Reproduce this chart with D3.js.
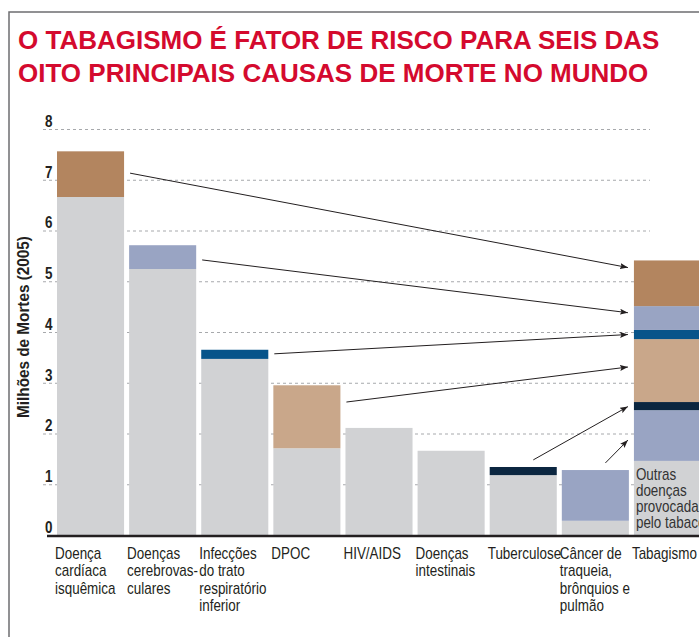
<!DOCTYPE html>
<html lang="pt-BR">
<head>
<meta charset="utf-8">
<script src="https://cdn.jsdelivr.net/npm/d3@7"></script>
<style>
  html, body { margin: 0; padding: 0; background: #fff; }
  svg { display: block; }
</style>
</head>
<body>
<div id="chart"></div>
<script>
  // Categorias (rótulos quebrados em linhas, como no original)
  const categorias = ["cardiaca", "cerebro", "infeccoes", "dpoc", "hiv", "intestinais", "tuberculose", "cancer", "tabagismo"];
  const rotulos = [
    ["Doença", "cardíaca", "isquêmica"],
    ["Doenças", "cerebrovas-", "culares"],
    ["Infecções", "do trato", "respiratório", "inferior"],
    ["DPOC"],
    ["HIV/AIDS"],
    ["Doenças", "intestinais"],
    ["Tuberculose"],
    ["Câncer de", "traqueia,", "brônquios e", "pulmão"],
    ["Tabagismo"]
  ];

  // Milhões de mortes (2005): parte sem relação com o tabaco e parte atribuída ao tabaco
  const outrasCausas = [6.66, 5.24, 3.47, 1.71, 2.11, 1.66, 1.18, 0.28];
  const tabaco       = [0.90, 0.47, 0.18, 1.24, 0, 0, 0.16, 1.00];
  const coresTabaco  = ["#b3855f", "#99a4c3", "#07548a", "#c9a78a", null, null, "#0b2640", "#99a4c3"];
  const outrasDoencasTabaco = 1.46;

  // Setas: categoria de origem, valor de saída e valor de chegada na barra "Tabagismo"
  const setaOrigem  = [0, 1, 2, 3, 6, 7];
  const setaDe      = [7.13, 5.42, 3.57, 2.62, 1.48, 1.42];
  const setaPara    = [5.27, 4.38, 3.95, 3.31, 2.53, 1.87];
  const setaDoTopo  = [false, false, false, false, true, true];

  const yTicks = [0, 1, 2, 3, 4, 5, 6, 7, 8];

  const W = 699, H = 637;
  const CINZA = "#d1d2d4";
  const FONTE = "'Liberation Sans', Arial, sans-serif";
  const SX = 0.84; // sem fonte condensada instalada: estreita a Liberation Sans

  const svg = d3.select("#chart").append("svg")
    .attr("width", W).attr("height", H);

  const defs = svg.append("defs");
  defs.append("marker")
    .attr("id", "ponta")
    .attr("viewBox", "0 0 8 6")
    .attr("refX", 8).attr("refY", 3)
    .attr("markerWidth", 8).attr("markerHeight", 6)
    .attr("markerUnits", "userSpaceOnUse")
    .attr("orient", "auto")
    .append("path")
    .attr("d", "M0,0 L8,3 L0,6 L1.5,3 Z")
    .attr("fill", "#231f20");

  // Moldura
  svg.append("rect")
    .attr("x", 9).attr("y", 12)
    .attr("width", W + 20).attr("height", H + 20)
    .attr("fill", "none")
    .attr("stroke", "#6d6e70")
    .attr("stroke-width", 1.5);

  // Título
  const titulo = svg.append("text")
    .attr("font-family", FONTE)
    .attr("font-weight", "bold")
    .attr("font-size", "26px")
    .attr("fill", "#d40a2e");
  titulo.append("tspan").attr("x", 18).attr("y", 49).text("O TABAGISMO É FATOR DE RISCO PARA SEIS DAS");
  titulo.append("tspan").attr("x", 18).attr("y", 82).text("OITO PRINCIPAIS CAUSAS DE MORTE NO MUNDO");

  const x = d3.scaleBand()
    .domain(categorias)
    .range([57, 701])
    .paddingInner(0.07)
    .paddingOuter(0);

  const y = d3.scaleLinear()
    .domain([0, 8])
    .range([535, 129]);

  // Grade tracejada
  svg.append("g")
    .selectAll("line")
    .data(yTicks.filter(d => d > 0))
    .join("line")
    .attr("x1", 43).attr("x2", 650)
    .attr("y1", d => y(d) + 0.5).attr("y2", d => y(d) + 0.5)
    .attr("stroke", "#a7a9ac")
    .attr("stroke-width", 1)
    .attr("stroke-dasharray", "3,3");

  // Rótulos do eixo Y
  svg.append("g")
    .attr("transform", `scale(${SX},1)`)
    .selectAll("text")
    .data(yTicks)
    .join("text")
    .attr("x", 45 / SX)
    .attr("y", d => y(d) - 2)
    .attr("font-family", FONTE)
    .attr("font-weight", "bold")
    .attr("font-size", "16px")
    .attr("fill", "#231f20")
    .text(d => d);

  svg.append("text")
    .attr("transform", `translate(29, ${y(4) - 5}) rotate(-90) scale(0.9,1)`)
    .attr("text-anchor", "middle")
    .attr("font-family", FONTE)
    .attr("font-weight", "bold")
    .attr("font-size", "17px")
    .attr("fill", "#231f20")
    .text("Milhões de Mortes (2005)");

  // Barras das oito causas
  const causas = categorias.slice(0, 8);
  const barras = svg.append("g");

  barras.selectAll("rect.base")
    .data(causas)
    .join("rect")
    .attr("class", "base")
    .attr("x", d => x(d))
    .attr("width", x.bandwidth())
    .attr("y", (d, i) => y(outrasCausas[i]))
    .attr("height", (d, i) => y(0) - y(outrasCausas[i]))
    .attr("fill", CINZA);

  barras.selectAll("rect.tabaco")
    .data(causas.filter((d, i) => tabaco[i] > 0))
    .join("rect")
    .attr("class", "tabaco")
    .attr("x", d => x(d))
    .attr("width", x.bandwidth())
    .attr("y", d => { const i = categorias.indexOf(d); return y(outrasCausas[i] + tabaco[i]); })
    .attr("height", d => { const i = categorias.indexOf(d); return y(outrasCausas[i]) - y(outrasCausas[i] + tabaco[i]); })
    .attr("fill", d => coresTabaco[categorias.indexOf(d)]);

  // Barra empilhada "Tabagismo": outras doenças na base, depois câncer ... cardíaca no topo
  const ordemPilha = [7, 6, 3, 2, 1, 0];
  const pilha = [{ y0: 0, y1: outrasDoencasTabaco, cor: CINZA }];
  let acumulado = outrasDoencasTabaco;
  ordemPilha.forEach(i => {
    pilha.push({ y0: acumulado, y1: acumulado + tabaco[i], cor: coresTabaco[i] });
    acumulado += tabaco[i];
  });

  barras.selectAll("rect.pilha")
    .data(pilha)
    .join("rect")
    .attr("class", "pilha")
    .attr("x", x("tabagismo"))
    .attr("width", x.bandwidth())
    .attr("y", d => y(d.y1))
    .attr("height", d => y(d.y0) - y(d.y1))
    .attr("fill", d => d.cor);

  const outras = svg.append("text")
    .attr("transform", `scale(${SX},1)`)
    .attr("font-family", FONTE)
    .attr("font-size", "16px")
    .attr("fill", "#333");
  ["Outras", "doenças", "provocadas", "pelo tabaco"].forEach((t, k) => {
    outras.append("tspan").attr("x", (x("tabagismo") + 2) / SX).attr("y", 480 + k * 16).text(t);
  });

  // Linha de base
  svg.append("line")
    .attr("x1", 47).attr("x2", W)
    .attr("y1", y(0) + 1).attr("y2", y(0) + 1)
    .attr("stroke", "#231f20")
    .attr("stroke-width", 2.5);

  // Setas
  const xFim = x("tabagismo") - 6;
  svg.append("g")
    .selectAll("line")
    .data(setaOrigem)
    .join("line")
    .attr("x1", (c, k) => setaDoTopo[k]
      ? x(categorias[c]) + x.bandwidth() * 0.65
      : x(categorias[c]) + x.bandwidth() + 6)
    .attr("y1", (c, k) => y(setaDe[k]))
    .attr("x2", xFim)
    .attr("y2", (c, k) => y(setaPara[k]))
    .attr("stroke", "#231f20")
    .attr("stroke-width", 1)
    .attr("marker-end", "url(#ponta)");

  // Rótulos das categorias
  const rot = svg.append("g")
    .attr("transform", `scale(${SX},1)`)
    .selectAll("text")
    .data(categorias)
    .join("text")
    .attr("font-family", FONTE)
    .attr("font-size", "16px")
    .attr("fill", "#231f20");
  rot.each(function (d, i) {
    const t = d3.select(this);
    rotulos[i].forEach((linha, k) => {
      t.append("tspan")
        .attr("x", (x(d) - 2) / SX)
        .attr("y", 559 + k * 17.5)
        .text(linha);
    });
  });
</script>
</body>
</html>
